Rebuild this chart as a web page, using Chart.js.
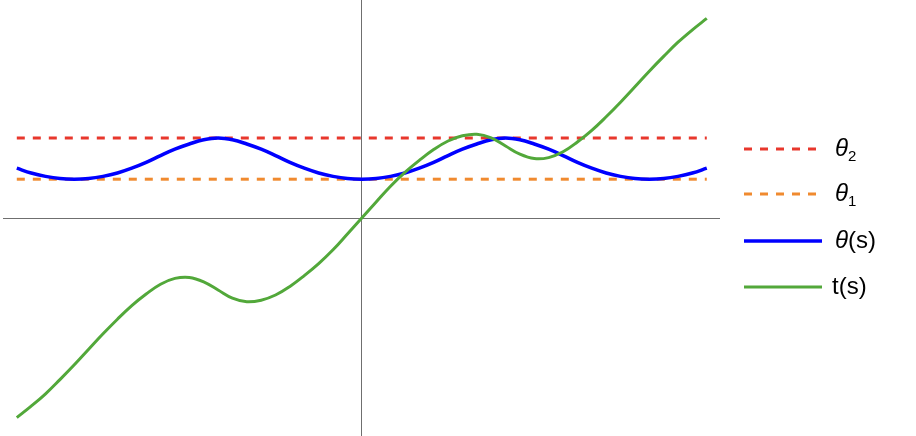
<!DOCTYPE html>
<html>
<head>
<meta charset="utf-8">
<script src="https://cdn.jsdelivr.net/npm/chart.js@4/dist/chart.umd.min.js"></script>
<style>
  html, body { margin: 0; padding: 0; background: #ffffff; }
  #wrap { position: relative; width: 916px; height: 436px; overflow: hidden; }
  #c { position: absolute; left: 0; top: 0; }
  .item { position: absolute; left: 744px; height: 30px; width: 170px; }
  .item svg { position: absolute; left: 0; top: 12px; }
  .lab { position: absolute; left: 91px; top: -1px; line-height: 30px; font-family: "Liberation Sans", Arial, sans-serif; font-size: 24px; color: #000; white-space: nowrap; }
  .lab i { font-style: italic; }
  .lab sub { font-size: 15px; vertical-align: -5px; line-height: 0; }
</style>
</head>
<body>
<div id="wrap">
  <canvas id="c" width="916" height="436"></canvas>
  <div class="item" style="top:134px">
    <svg width="76" height="6"><line x1="0" y1="3" x2="76" y2="3" stroke="#e8372c" stroke-width="3" stroke-dasharray="8 8"/></svg>
    <span class="lab"><i>θ</i><sub>2</sub></span>
  </div>
  <div class="item" style="top:179px">
    <svg width="76" height="6"><line x1="0" y1="3" x2="76" y2="3" stroke="#f08a2f" stroke-width="3" stroke-dasharray="8 8"/></svg>
    <span class="lab"><i>θ</i><sub>1</sub></span>
  </div>
  <div class="item" style="top:226px">
    <svg width="78" height="6"><line x1="0" y1="3" x2="78" y2="3" stroke="#0000ff" stroke-width="3.5"/></svg>
    <span class="lab"><i>θ</i>(s)</span>
  </div>
  <div class="item" style="top:272px">
    <svg width="78" height="6"><line x1="0" y1="3" x2="78" y2="3" stroke="#52a83a" stroke-width="3"/></svg>
    <span class="lab" style="left:88px">t(s)</span>
  </div>
</div>
<script>
// ---- data ----
const sGrid = [-6,-5.75,-5.5,-5.25,-5,-4.75,-4.5,-4.25,-4,-3.75,-3.5,-3.25,-3,-2.75,-2.5,-2.25,-2,-1.75,-1.5,-1.25,-1,-0.75,-0.5,-0.25,0,
               0.25,0.5,0.75,1,1.25,1.5,1.75,2,2.25,2.5,2.75,3,3.25,3.5,3.75,4,4.25,4.5,4.75,5,5.25,5.5,5.75,6];
const thetaS = [1.245,1.125,1.04,0.985,0.97,0.985,1.04,1.125,1.245,1.39,1.56,1.72,1.85,1.955,2.0,1.955,1.85,1.72,1.56,1.39,1.245,1.125,1.04,0.985,0.97,
                0.985,1.04,1.125,1.245,1.39,1.56,1.72,1.85,1.955,2.0,1.955,1.85,1.72,1.56,1.39,1.245,1.125,1.04,0.985,0.97,0.985,1.04,1.125,1.245];
const tS = [-4.99,-4.705,-4.395,-4.04,-3.67,-3.28,-2.895,-2.53,-2.19,-1.90,-1.655,-1.51,-1.485,-1.595,-1.80,-2.005,-2.095,-2.055,-1.925,-1.71,-1.44,-1.14,-0.795,-0.40,0,
            0.40,0.795,1.14,1.44,1.71,1.925,2.055,2.095,2.005,1.80,1.595,1.485,1.51,1.655,1.90,2.19,2.53,2.895,3.28,3.67,4.04,4.395,4.705,4.99];
const lineS = [-6, 6];
const theta1 = [0.97, 0.97];
const theta2 = [2.0, 2.0];
const seriesNames = ["θ2", "θ1", "θ(s)", "t(s)"];
const xRange = [-6.24, 6.23];
const yRange = [-5.45, 5.45];

const pts = (xs, ys) => xs.map((x, i) => ({ x: x, y: ys[i] }));

const zeroOnly = (axis) => { axis.ticks = [{ value: 0 }]; };

new Chart(document.getElementById('c'), {
  type: 'line',
  data: {
    datasets: [
      { label: seriesNames[3], data: pts(sGrid, tS), borderColor: '#52a83a', borderWidth: 3, pointRadius: 0, tension: 0.4, fill: false, order: 0 },
      { label: seriesNames[2], data: pts(sGrid, thetaS), borderColor: '#0000ff', borderWidth: 3.5, pointRadius: 0, tension: 0.4, fill: false, order: 1 },
      { label: seriesNames[1], data: pts(lineS, theta1), borderColor: '#f08a2f', borderWidth: 3, borderDash: [8, 8], borderCapStyle: 'butt', pointRadius: 0, fill: false, order: 2 },
      { label: seriesNames[0], data: pts(lineS, theta2), borderColor: '#e8372c', borderWidth: 3, borderDash: [8, 8], borderCapStyle: 'butt', pointRadius: 0, fill: false, order: 3 }
    ]
  },
  options: {
    responsive: false,
    animation: false,
    devicePixelRatio: 1,
    layout: { padding: { left: 3, right: 196, top: 0, bottom: 0 } },
    plugins: { legend: { display: false }, tooltip: { enabled: false } },
    scales: {
      x: {
        type: 'linear', min: xRange[0], max: xRange[1],
        ticks: { display: false },
        grid: { drawTicks: false, color: '#6f6f6f', lineWidth: 1 },
        border: { display: false },
        afterBuildTicks: zeroOnly
      },
      y: {
        type: 'linear', min: yRange[0], max: yRange[1],
        ticks: { display: false },
        grid: { drawTicks: false, color: '#6f6f6f', lineWidth: 1 },
        border: { display: false },
        afterBuildTicks: zeroOnly
      }
    }
  }
});
</script>
</body>
</html>
